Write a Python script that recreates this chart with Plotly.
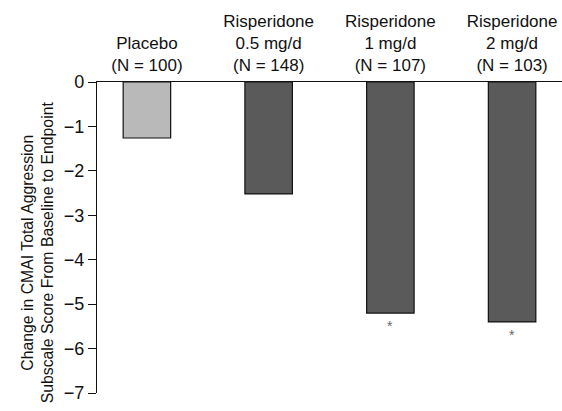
import plotly.graph_objects as go

categories = ["Placebo<br>(N = 100)", "Risperidone<br>0.5 mg/d<br>(N = 148)",
              "Risperidone<br>1 mg/d<br>(N = 107)", "Risperidone<br>2 mg/d<br>(N = 103)"]
values = [-1.26, -2.52, -5.2, -5.4]
colors = ["#b9b9b9", "#5a5a5a", "#5a5a5a", "#5a5a5a"]
significant = [False, False, True, True]
y_ticks = [0, -1, -2, -3, -4, -5, -6, -7]

xpos = list(range(len(categories)))

fig = go.Figure()
fig.add_trace(go.Bar(
    x=xpos, y=values, width=0.39,
    marker=dict(color=colors, line=dict(color="#111111", width=1.2)),
    showlegend=False, hoverinfo="skip",
))

for i, (v, s) in enumerate(zip(values, significant)):
    if s:
        fig.add_annotation(x=i, y=v, xref="x", yref="y", text="*", showarrow=False,
                           yshift=-13, font=dict(size=14, color="#666666"))

fig.add_annotation(
    text="Change in CMAI Total Aggression<br>Subscale Score From Baseline to Endpoint",
    xref="paper", yref="paper", x=-0.127, y=0.452, xanchor="center", yanchor="middle",
    textangle=-90, showarrow=False, font=dict(size=15.8, color="#111111"),
)

fig.update_layout(
    width=562, height=411,
    margin=dict(l=97, r=0, t=82, b=18),
    paper_bgcolor="white", plot_bgcolor="white",
    font=dict(family="Liberation Sans, Arial, sans-serif", size=16, color="#111111"),
    xaxis=dict(
        range=[-0.41, 3.41], side="top", tickmode="array", tickvals=xpos,
        ticktext=categories, showline=True, linecolor="#111111", linewidth=1.2,
        ticks="", showgrid=False, zeroline=False, fixedrange=True,
        tickfont=dict(size=17), automargin=False, ticklabelstandoff=3,
    ),
    yaxis=dict(
        range=[-7, 0], tickmode="array", tickvals=y_ticks,
        showline=True, linecolor="#111111", linewidth=1.2,
        ticks="outside", ticklen=8, tickcolor="#111111", tickwidth=1.2,
        showgrid=False, zeroline=False, fixedrange=True,
        tickfont=dict(size=18), automargin=False,
    ),
)

fig.write_html("out.html", config={"displayModeBar": False},
               post_script="document.body.style.margin='0';document.body.style.overflow='hidden';")
